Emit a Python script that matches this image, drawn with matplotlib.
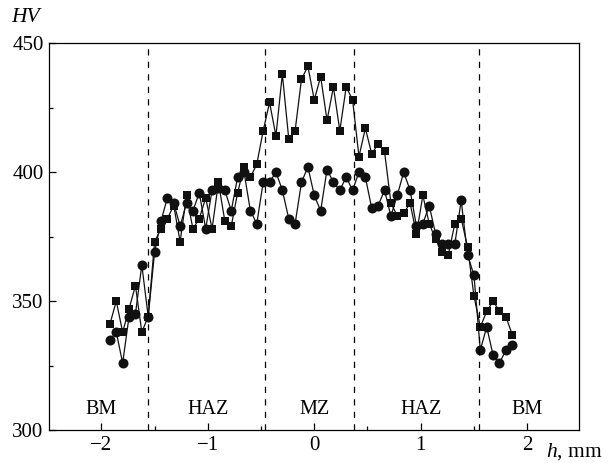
import matplotlib
matplotlib.use('Agg')

import matplotlib.pyplot as plt
from matplotlib.ticker import MultipleLocator

plt.rcParams['font.family'] = ['Liberation Serif', 'DejaVu Serif']
plt.rcParams['mathtext.fontset'] = 'custom'
plt.rcParams['mathtext.it'] = 'Liberation Serif:italic'
plt.rcParams['mathtext.rm'] = 'Liberation Serif'

# distance from weld centre, mm
h = [-1.92, -1.86, -1.80, -1.74, -1.68, -1.62, -1.56, -1.50, -1.44, -1.38,
     -1.32, -1.26, -1.20, -1.14, -1.08, -1.02, -0.96, -0.90, -0.84, -0.78,
     -0.72, -0.66, -0.60, -0.54, -0.48, -0.42, -0.36, -0.30, -0.24, -0.18,
     -0.12, -0.06, 0.00, 0.06, 0.12, 0.18, 0.24, 0.30, 0.36, 0.42,
     0.48, 0.54, 0.60, 0.66, 0.72, 0.78, 0.84, 0.90, 0.96, 1.02,
     1.08, 1.14, 1.20, 1.26, 1.32, 1.38, 1.44, 1.50, 1.56, 1.62,
     1.68, 1.74, 1.80, 1.86]

hv_squares = [341, 350, 338, 347, 356, 338, 344, 373, 378, 382,
              387, 373, 391, 378, 382, 390, 378, 396, 381, 379,
              392, 402, 398, 403, 416, 427, 414, 438, 413, 416,
              436, 441, 428, 437, 420, 433, 416, 433, 428, 406,
              417, 407, 411, 408, 388, 383, 384, 388, 376, 391,
              380, 374, 369, 368, 380, 382, 371, 352, 340, 346,
              350, 346, 344, 337]

hv_circles = [335, 338, 326, 344, 345, 364, 344, 369, 381, 390,
              388, 379, 388, 385, 392, 378, 393, 394, 393, 385,
              398, 400, 385, 380, 396, 396, 400, 393, 382, 380,
              396, 402, 391, 385, 401, 396, 393, 398, 393, 400,
              398, 386, 387, 393, 383, 391, 400, 393, 379, 380,
              387, 376, 372, 372, 372, 389, 368, 360, 331, 340,
              329, 326, 331, 333]

# zone boundaries and labels
zone_bounds = [-1.56, -0.46, 0.37, 1.55]
zone_names = ['BM', 'HAZ', 'MZ', 'HAZ', 'BM']
zone_centres = [-2.0, -1.0, 0.0, 1.0, 2.0]

fig = plt.figure(figsize=(6.15, 4.63), dpi=100)
ax = fig.add_axes([0.080, 0.071, 0.862, 0.836])

ax.plot(h, hv_squares, '-s', color='#111111', linewidth=0.9,
        markersize=6.3, markeredgewidth=0)
ax.plot(h, hv_circles, '-o', color='#111111', linewidth=0.9,
        markersize=7.2, markeredgewidth=0)

for b in zone_bounds:
    ax.axvline(b, color='black', linewidth=0.9, linestyle=(0, (5, 5)))

for xc, name in zip(zone_centres, zone_names):
    ax.text(xc, 308, name, ha='center', va='center', fontsize=14.5)

ax.set_xlim(-2.49, 2.49)
ax.set_ylim(300, 450)
ax.xaxis.set_major_locator(MultipleLocator(1))
ax.xaxis.set_minor_locator(MultipleLocator(0.5))
ax.yaxis.set_major_locator(MultipleLocator(50))
ax.yaxis.set_minor_locator(MultipleLocator(25))
ax.tick_params(which='major', direction='in', length=5, width=0.9,
               labelsize=15, pad=4)
ax.tick_params(which='minor', direction='in', length=3, width=0.9)
for s in ax.spines.values():
    s.set_linewidth(0.9)

fig.text(0.019, 0.962, 'HV', fontsize=15.5, style='italic', va='center')
fig.text(0.887, 0.025, '$h$, mm', fontsize=15.5, va='center')

plt.savefig('out.png', dpi=100)
plt.close(fig)
